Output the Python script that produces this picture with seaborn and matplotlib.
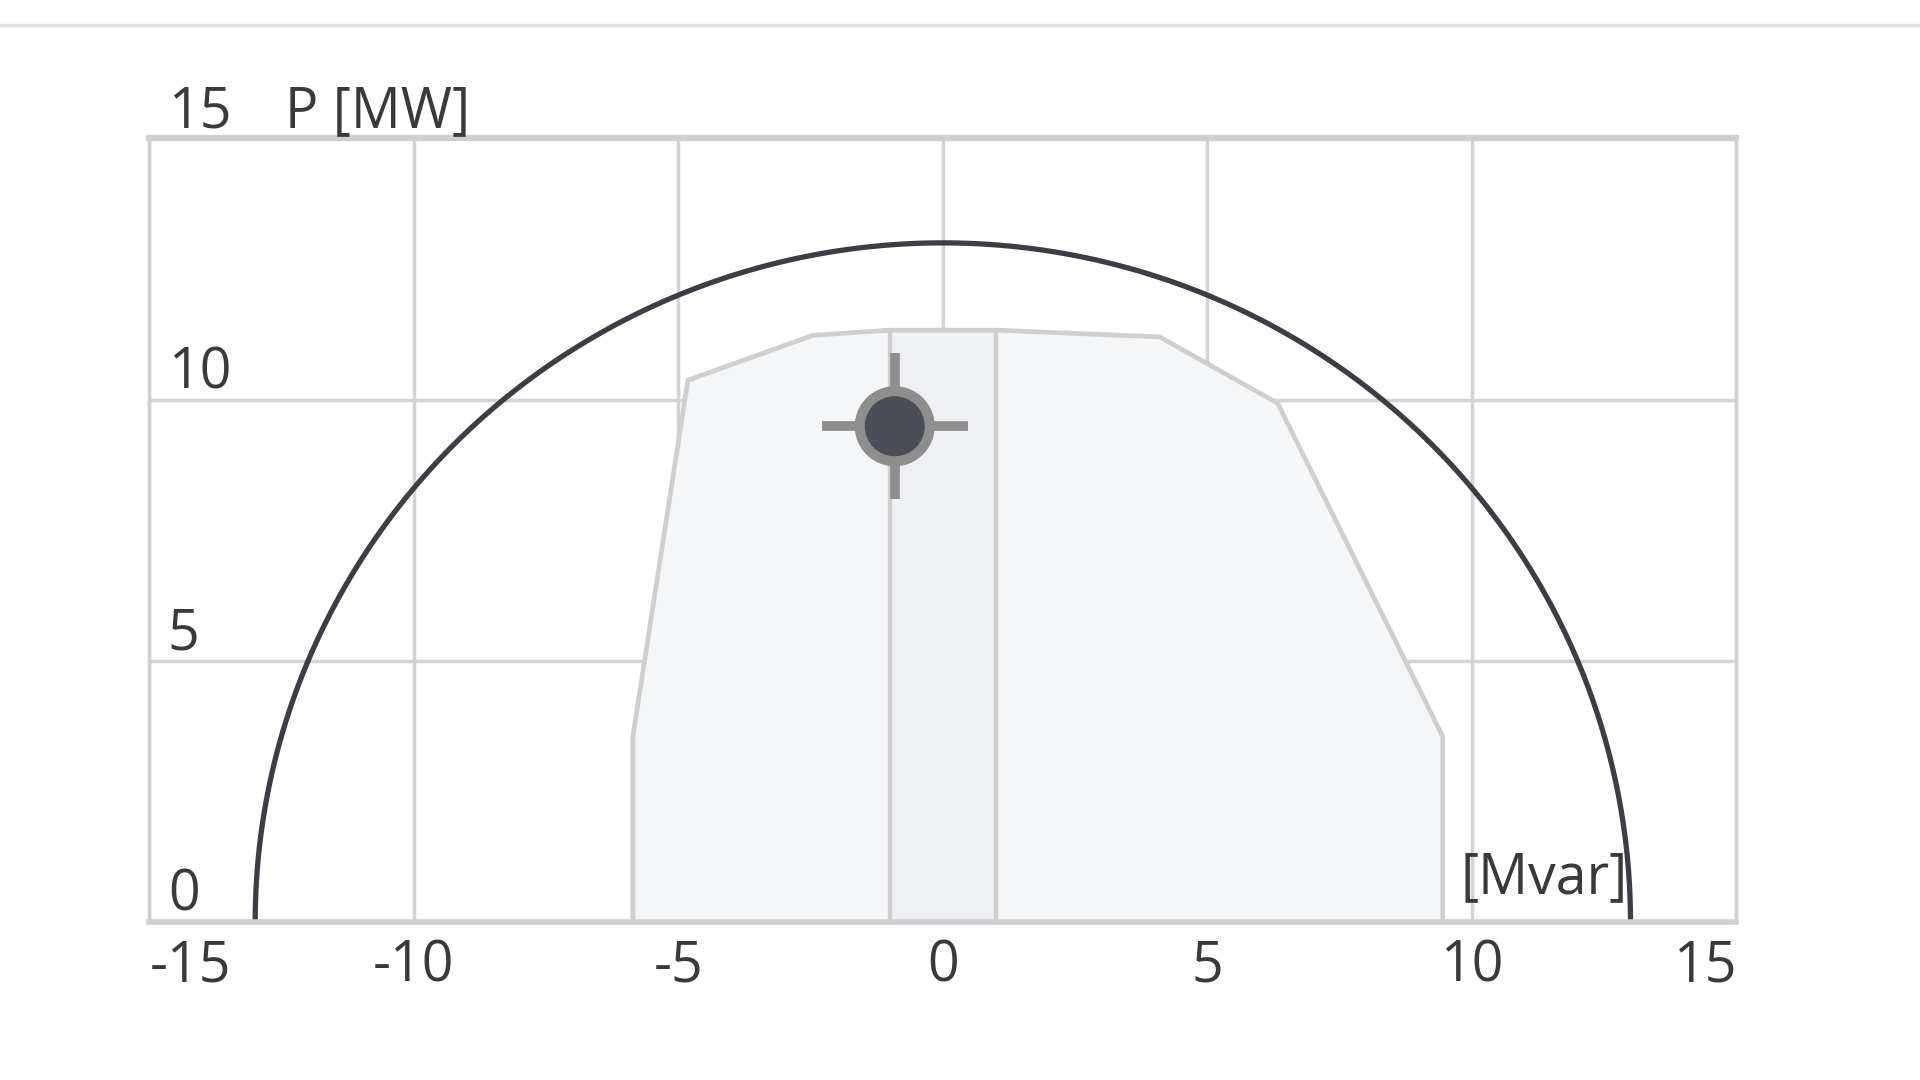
import numpy as np
import pandas as pd
import matplotlib
matplotlib.use("Agg")
import matplotlib.pyplot as plt
import matplotlib.transforms as mtransforms
from matplotlib.lines import Line2D
import seaborn as sns

# ---------------- data ----------------
q_ticks = [-15, -10, -5, 0, 5, 10, 15]
q_tick_labels = ["-15", "-10", "-5", "0", "5", "10", "15"]
p_ticks = [0, 5, 10, 15]
p_tick_labels = ["0", "5", "10", "15"]
s_rated = 13.0  # apparent-power limit circle radius
cap_q = [-5.86, -5.86, -4.82, -2.46, -1.0, 1.0, 4.10, 6.33, 9.45, 9.45]
cap_p = [0.0, 3.55, 10.37, 11.23, 11.33, 11.33, 11.20, 9.93, 3.55, 0.0]
band_q = [-1.0, -1.0, 1.0, 1.0]
band_p = [0.0, 11.33, 11.33, 0.0]
op_q = [-0.91]
op_p = [9.49]
x_unit = "[Mvar]"
y_unit = "P [MW]"

# ---------------- style ----------------
sns.set_theme(style="white")
plt.rcParams["font.family"] = ["Open Sans", "DejaVu Sans"]
plt.rcParams["axes.unicode_minus"] = False

txt_c = "#3a3a3a"
grid_c = "#d3d3d3"
edge_c = "#cfcfcf"
fs = 40

fig = plt.figure(figsize=(19.2, 10.8), dpi=100)
ax = fig.add_axes([149.4 / 1920, 1 - 922 / 1080, (1736.3 - 149.4) / 1920, (922 - 138.4) / 1080])
ax.set_xlim(-15, 15)
ax.set_ylim(0, 15)

# grid
ax.set_xticks(q_ticks)
ax.set_xticklabels(q_tick_labels)
ax.set_yticks(p_ticks)
ax.set_yticklabels([])
ax.grid(True, color=grid_c, lw=2.5)
ax.set_axisbelow(True)
ax.tick_params(axis="y", length=0)
ax.tick_params(axis="x", length=42, width=1.5, color="#c9d8ee", direction="out",
               pad=-30, labelsize=fs, labelcolor=txt_c)
xl = ax.get_xticklabels()
xl[0].set_ha("left")
xl[-1].set_ha("right")

for side, sp in ax.spines.items():
    sp.set_color(edge_c)
    sp.set_visible(True)
ax.spines["top"].set_linewidth(4.5)
ax.spines["bottom"].set_linewidth(4)
ax.spines["left"].set_linewidth(2.5)
ax.spines["right"].set_linewidth(2.5)

# capability area
ax.fill(cap_q, cap_p, facecolor="#f5f6f8", edgecolor="none", zorder=1)
ax.fill(band_q, band_p, facecolor="#eef0f4", edgecolor="none", zorder=1.1)
ax.plot([band_q[0], band_q[1]], [band_p[0], band_p[1]], color=edge_c, lw=3.2, zorder=1.2)
ax.plot([band_q[2], band_q[3]], [band_p[2], band_p[3]], color=edge_c, lw=3.2, zorder=1.2)
ax.plot(cap_q, cap_p, color=edge_c, lw=3.4, zorder=1.3, solid_joinstyle="miter")

# unit label
ax.text(9.79, 0.55, x_unit, fontsize=fs, color=txt_c, ha="left", va="baseline", zorder=1.5)

# limit semicircle
theta = np.linspace(np.pi, 0, 400)
circ = pd.DataFrame({"q": s_rated * np.cos(theta), "p": s_rated * np.sin(theta)})
sns.lineplot(data=circ, x="q", y="p", sort=False, estimator=None, color="#3b3e44",
             lw=3.8, ax=ax, zorder=2)

# operating point
sns.scatterplot(x=op_q, y=op_p, marker="+", s=11025, color="#8e8e8e", linewidth=7,
                ax=ax, zorder=3)
sns.scatterplot(x=op_q, y=op_p, marker="o", s=3318, color="#8e8e8e", edgecolor="none",
                linewidth=0, ax=ax, zorder=4)
sns.scatterplot(x=op_q, y=op_p, marker="o", s=1866, color="#4b4e54", edgecolor="none",
                linewidth=0, ax=ax, zorder=5)

ax.set_xlabel("")
ax.set_ylabel("")

# y tick labels inside the plot, just above each grid line
off = mtransforms.offset_copy(ax.transData, fig=fig, x=0, y=8, units="points")
for v, lab in zip(p_ticks, p_tick_labels):
    ax.text(-14.65, v, lab, transform=off, fontsize=fs, color=txt_c, ha="left",
            va="baseline", clip_on=False, zorder=6)
ax.text(-12.44, 15, y_unit, transform=off, fontsize=fs, color=txt_c, ha="left",
        va="baseline", clip_on=False, zorder=6)

# top separator line
fig.add_artist(Line2D([0, 1], [1 - 24.5 / 1080] * 2, transform=fig.transFigure,
                      color="#e2e2e2", lw=2.5))

fig.savefig("out.png", dpi=100, facecolor="white")
